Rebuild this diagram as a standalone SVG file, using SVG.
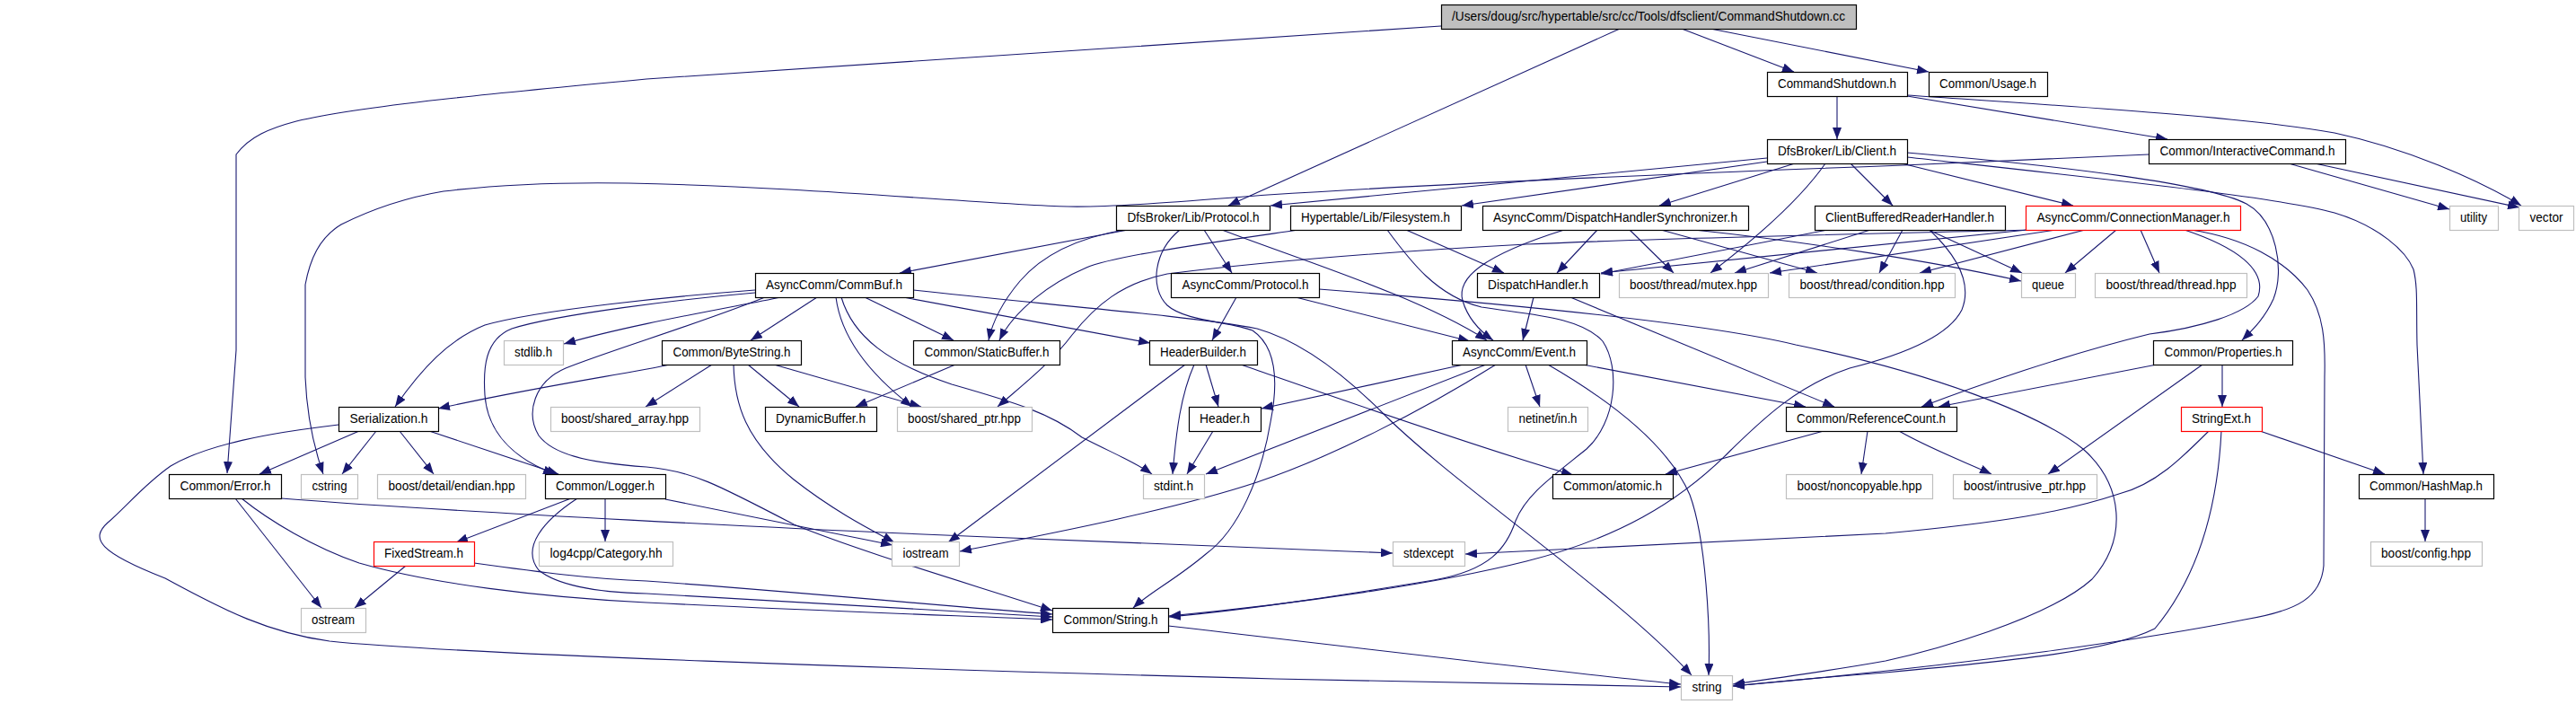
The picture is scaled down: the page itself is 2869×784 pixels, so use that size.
<svg xmlns="http://www.w3.org/2000/svg" width="2869" height="784" viewBox="0 0 2869 784">
<defs>
<marker id="arr" markerUnits="userSpaceOnUse" viewBox="0 0 13 10" refX="13" refY="5" markerWidth="13" markerHeight="10" orient="auto"><path d="M0,0L13,5L0,10z" fill="#191970"/></marker>
</defs>
<style>
.n rect{fill:#fff;stroke:#000;stroke-width:1.2}
.n.x rect{stroke:#bfbfbf}
.n.r rect{stroke:#f00}
.n.top rect{fill:#bfbfbf}
text{font-family:"Liberation Sans",Arial,Helvetica,sans-serif;font-size:14px;text-anchor:middle;fill:#000}
#edges path{fill:none;stroke:#191970;stroke-width:1.1;marker-end:url(#arr)}
</style>
<rect width="2869" height="784" fill="#fff"/>
<g id="edges">
<path d="M1605,29 L720,88 C560,103 400,118 330,135 C300,143 278,152 263,172 L263,390 L253,527"/>
<path d="M1804,32 L1368,229"/>
<path d="M1873,32 L1998,80"/>
<path d="M1905,32 L2148,80"/>
<path d="M2046,107 L2046,155"/>
<path d="M2124,107 L2414,155"/>
<path d="M2124,106 C2300,118 2500,130 2600,148 C2680,165 2760,200 2808,229"/>
<path d="M2549,182 L2728,233"/>
<path d="M2578,182 L2806,231"/>
<path d="M2393,172 L2120,184 C1900,192 1600,205 1412,217 C1320,224 1240,231 1190,230 C1100,228 900,208 700,204 C640,203 560,205 494,213 C440,222 400,240 380,250 C355,265 345,290 340,317 L340,420 C342,470 352,505 360,528"/>
<path d="M1968,176 L1415,229"/>
<path d="M1968,180 L1628,229"/>
<path d="M1999,182 L1848,229"/>
<path d="M2033,182 C2005,222 1960,262 1905,304"/>
<path d="M2061,182 L2108,229"/>
<path d="M2118,182 L2309,229"/>
<path d="M2124,170 C2300,185 2460,205 2502,227 C2535,245 2545,300 2532,333 C2522,355 2508,368 2497,379"/>
<path d="M2124,175 C2350,200 2540,220 2600,237 C2650,252 2680,280 2688,300 C2693,320 2691,340 2692,384 L2699,528"/>
<path d="M2119,256 L2093,304"/>
<path d="M2148,256 L2252,304"/>
<path d="M2083,256 L1932,304"/>
<path d="M2035,256 L1783,305"/>
<path d="M2149,256 C2185,290 2195,320 2185,345 C2170,375 2120,395 2060,410 C2000,430 1960,470 1928,501 C1870,560 1800,600 1700,625 C1600,650 1450,672 1302,686"/>
<path d="M2357,256 L2300,304"/>
<path d="M2384,256 L2405,304"/>
<path d="M2322,256 L2138,304"/>
<path d="M2290,256 L1971,304"/>
<path d="M2258,256 L1783,304"/>
<path d="M2262,256 C2100,260 1850,265 1700,272 C1550,280 1420,290 1300,305 C1250,315 1220,340 1194,373 C1170,405 1135,432 1111,453"/>
<path d="M2433,256 C2490,275 2525,300 2515,330 C2500,350 2450,365 2394,372 C2300,395 2200,430 2140,453"/>
<path d="M2440,256 C2500,265 2545,290 2570,323 C2588,350 2590,380 2589,420 L2588,630 C2585,665 2560,680 2500,690 C2400,710 2200,740 1930,764"/>
<path d="M1779,256 L1734,304"/>
<path d="M1815,256 L1864,304"/>
<path d="M1850,256 L2024,304"/>
<path d="M1887,256 C2000,268 2150,290 2251,313"/>
<path d="M1742,256 C1650,285 1622,310 1629,335 C1635,355 1650,370 1663,379"/>
<path d="M1566,256 L1675,304"/>
<path d="M1446,256 C1350,270 1240,285 1210,298 C1170,315 1130,345 1113,379"/>
<path d="M1545,256 C1570,290 1600,330 1650,342 C1700,350 1760,352 1785,380 C1805,410 1800,470 1767,500 C1730,530 1700,550 1688,580 C1678,610 1660,635 1597,646 C1500,662 1400,678 1302,687"/>
<path d="M1256,256 L1002,304"/>
<path d="M1252,256 C1200,265 1160,285 1136,313 C1115,338 1105,360 1101,379"/>
<path d="M1341,256 L1372,304"/>
<path d="M1361,256 C1450,290 1580,330 1656,379"/>
<path d="M1314,256 C1285,280 1280,320 1300,340 C1320,358 1370,358 1395,368 C1420,385 1425,420 1415,470 C1405,530 1380,590 1343,617 C1310,645 1280,660 1262,677"/>
<path d="M1443,331 L1637,380"/>
<path d="M1377,331 L1350,379"/>
<path d="M1469,322 C1700,340 1900,360 2000,384 C2150,415 2270,460 2320,500 C2365,540 2370,600 2330,645 C2280,690 2150,725 2100,736 C2050,745 1980,755 1930,762"/>
<path d="M910,331 L836,379"/>
<path d="M963,331 L1062,379"/>
<path d="M1006,331 L1281,382"/>
<path d="M931,331 C936,370 960,410 1016,453"/>
<path d="M937,331 C950,375 990,405 1060,428 C1130,448 1170,460 1205,487 C1240,505 1265,515 1283,528"/>
<path d="M1017,323 C1150,338 1330,352 1400,366 C1450,380 1500,420 1540,460 C1620,540 1800,660 1884,752"/>
<path d="M841,323 C750,330 600,345 540,362 C500,378 470,410 440,453"/>
<path d="M841,326 C760,333 620,350 570,366 C540,378 538,410 540,440 C543,480 570,510 618,528"/>
<path d="M870,331 C800,345 700,362 628,383"/>
<path d="M852,331 C780,360 680,390 630,410 C595,425 585,460 600,485 C615,505 650,515 720,520 C770,524 800,540 884,584 C960,615 1080,650 1172,680"/>
<path d="M746,406 C700,416 600,430 488,455"/>
<path d="M793,406 L719,453"/>
<path d="M833,406 L890,453"/>
<path d="M862,406 L1026,453"/>
<path d="M817,406 C818,450 830,490 884,534 C930,570 970,590 996,604"/>
<path d="M1064,406 L953,453"/>
<path d="M1343,406 L1357,453"/>
<path d="M1330,406 C1315,440 1310,480 1306,528"/>
<path d="M1320,406 L1056,604"/>
<path d="M1382,406 C1480,440 1650,500 1752,529"/>
<path d="M1351,480 L1322,528"/>
<path d="M1630,406 L1405,455"/>
<path d="M1655,406 L1343,528"/>
<path d="M1666,406 C1580,460 1480,510 1400,537 C1300,570 1150,598 1069,614"/>
<path d="M1699,406 L1715,453"/>
<path d="M1724,406 C1800,450 1860,500 1882,551 C1900,600 1905,700 1903,752"/>
<path d="M1763,406 L2011,453"/>
<path d="M1708,331 L1696,379"/>
<path d="M1749,331 L2043,453"/>
<path d="M400,480 L289,528"/>
<path d="M419,480 L381,528"/>
<path d="M445,480 L483,528"/>
<path d="M478,480 L622,528"/>
<path d="M377,473 C300,482 230,495 190,519 C160,540 140,565 120,582 C100,600 110,615 184,644 C250,680 300,705 367,714 C500,728 1000,745 1420,756 C1600,760 1750,762 1872,765"/>
<path d="M262,555 L358,677"/>
<path d="M269,555 C300,580 350,610 400,627 C480,650 600,665 720,671 C900,680 1050,685 1172,690"/>
<path d="M313,555 C500,570 900,590 1100,598 C1300,606 1450,612 1551,616"/>
<path d="M636,555 L508,604"/>
<path d="M674,555 L674,603"/>
<path d="M741,556 L994,607"/>
<path d="M643,555 C605,580 580,610 600,635 C625,655 680,660 720,661 C900,670 1050,680 1172,687"/>
<path d="M452,630 L395,677"/>
<path d="M528,627 C600,637 660,645 720,647 C900,660 1050,675 1172,684"/>
<path d="M1301,697 C1500,720 1750,750 1872,762"/>
<path d="M2402,406 L2159,453"/>
<path d="M2453,406 L2281,528"/>
<path d="M2475,406 L2475,453"/>
<path d="M2517,480 L2656,528"/>
<path d="M2460,480 C2430,510 2400,540 2360,550 C2300,570 2230,582 2100,594 C1900,605 1750,612 1632,617"/>
<path d="M2474,480 C2470,560 2450,640 2400,700 C2350,725 2250,735 2100,749 C2020,755 1970,760 1930,764"/>
<path d="M2031,480 L1855,528"/>
<path d="M2080,480 L2073,528"/>
<path d="M2115,480 C2150,500 2190,515 2218,528"/>
<path d="M2701,555 L2701,603"/>
</g>
<g id="n_cc" class="n top"><rect x="1605.5" y="5.5" width="462" height="27"/><text x="1836" y="23" textLength="438" lengthAdjust="spacingAndGlyphs">/Users/doug/src/hypertable/src/cc/Tools/dfsclient/CommandShutdown.cc</text></g>
<g id="n_cmdsh" class="n"><rect x="1968.5" y="80.5" width="156" height="27"/><text x="2046" y="98" textLength="132" lengthAdjust="spacingAndGlyphs">CommandShutdown.h</text></g>
<g id="n_usage" class="n"><rect x="2148.5" y="80.5" width="132" height="27"/><text x="2214" y="98" textLength="108" lengthAdjust="spacingAndGlyphs">Common/Usage.h</text></g>
<g id="n_client" class="n"><rect x="1968.5" y="155.5" width="156" height="27"/><text x="2046" y="173" textLength="132" lengthAdjust="spacingAndGlyphs">DfsBroker/Lib/Client.h</text></g>
<g id="n_interactive" class="n"><rect x="2393.5" y="155.5" width="219" height="27"/><text x="2503" y="173" textLength="195" lengthAdjust="spacingAndGlyphs">Common/InteractiveCommand.h</text></g>
<g id="n_dfsproto" class="n"><rect x="1243.5" y="229.5" width="171" height="27"/><text x="1329" y="247" textLength="147" lengthAdjust="spacingAndGlyphs">DfsBroker/Lib/Protocol.h</text></g>
<g id="n_fs" class="n"><rect x="1437.5" y="229.5" width="190" height="27"/><text x="1532" y="247" textLength="166" lengthAdjust="spacingAndGlyphs">Hypertable/Lib/Filesystem.h</text></g>
<g id="n_dhs" class="n"><rect x="1651.5" y="229.5" width="296" height="27"/><text x="1799" y="247" textLength="272" lengthAdjust="spacingAndGlyphs">AsyncComm/DispatchHandlerSynchronizer.h</text></g>
<g id="n_cbrh" class="n"><rect x="2021.5" y="229.5" width="212" height="27"/><text x="2127" y="247" textLength="188" lengthAdjust="spacingAndGlyphs">ClientBufferedReaderHandler.h</text></g>
<g id="n_connmgr" class="n r"><rect x="2256.5" y="229.5" width="239" height="27"/><text x="2376" y="247" textLength="215" lengthAdjust="spacingAndGlyphs">AsyncComm/ConnectionManager.h</text></g>
<g id="n_utility" class="n x"><rect x="2728.5" y="229.5" width="54" height="27"/><text x="2755" y="247" textLength="30" lengthAdjust="spacingAndGlyphs">utility</text></g>
<g id="n_vector" class="n x"><rect x="2805.5" y="229.5" width="61" height="27"/><text x="2836" y="247" textLength="37" lengthAdjust="spacingAndGlyphs">vector</text></g>
<g id="n_commbuf" class="n"><rect x="841.5" y="304.5" width="176" height="27"/><text x="929" y="322" textLength="152" lengthAdjust="spacingAndGlyphs">AsyncComm/CommBuf.h</text></g>
<g id="n_acproto" class="n"><rect x="1304.5" y="304.5" width="165" height="27"/><text x="1387" y="322" textLength="141" lengthAdjust="spacingAndGlyphs">AsyncComm/Protocol.h</text></g>
<g id="n_dh" class="n"><rect x="1645.5" y="304.5" width="136" height="27"/><text x="1713" y="322" textLength="112" lengthAdjust="spacingAndGlyphs">DispatchHandler.h</text></g>
<g id="n_mutex" class="n x"><rect x="1803.5" y="304.5" width="166" height="27"/><text x="1886" y="322" textLength="142" lengthAdjust="spacingAndGlyphs">boost/thread/mutex.hpp</text></g>
<g id="n_cond" class="n x"><rect x="1992.5" y="304.5" width="185" height="27"/><text x="2085" y="322" textLength="161" lengthAdjust="spacingAndGlyphs">boost/thread/condition.hpp</text></g>
<g id="n_queue" class="n x"><rect x="2251.5" y="304.5" width="60" height="27"/><text x="2281" y="322" textLength="36" lengthAdjust="spacingAndGlyphs">queue</text></g>
<g id="n_thread" class="n x"><rect x="2333.5" y="304.5" width="169" height="27"/><text x="2418" y="322" textLength="145" lengthAdjust="spacingAndGlyphs">boost/thread/thread.hpp</text></g>
<g id="n_stdlib" class="n x"><rect x="561.5" y="379.5" width="66" height="27"/><text x="594" y="397" textLength="42" lengthAdjust="spacingAndGlyphs">stdlib.h</text></g>
<g id="n_bytestr" class="n"><rect x="737.5" y="379.5" width="155" height="27"/><text x="815" y="397" textLength="131" lengthAdjust="spacingAndGlyphs">Common/ByteString.h</text></g>
<g id="n_staticbuf" class="n"><rect x="1017.5" y="379.5" width="163" height="27"/><text x="1099" y="397" textLength="139" lengthAdjust="spacingAndGlyphs">Common/StaticBuffer.h</text></g>
<g id="n_hb" class="n"><rect x="1280.5" y="379.5" width="120" height="27"/><text x="1340" y="397" textLength="96" lengthAdjust="spacingAndGlyphs">HeaderBuilder.h</text></g>
<g id="n_event" class="n"><rect x="1617.5" y="379.5" width="150" height="27"/><text x="1692" y="397" textLength="126" lengthAdjust="spacingAndGlyphs">AsyncComm/Event.h</text></g>
<g id="n_props" class="n"><rect x="2398.5" y="379.5" width="155" height="27"/><text x="2476" y="397" textLength="131" lengthAdjust="spacingAndGlyphs">Common/Properties.h</text></g>
<g id="n_ser" class="n"><rect x="377.5" y="453.5" width="111" height="27"/><text x="433" y="471" textLength="87" lengthAdjust="spacingAndGlyphs">Serialization.h</text></g>
<g id="n_sharr" class="n x"><rect x="613.5" y="453.5" width="166" height="27"/><text x="696" y="471" textLength="142" lengthAdjust="spacingAndGlyphs">boost/shared_array.hpp</text></g>
<g id="n_dynbuf" class="n"><rect x="852.5" y="453.5" width="124" height="27"/><text x="914" y="471" textLength="100" lengthAdjust="spacingAndGlyphs">DynamicBuffer.h</text></g>
<g id="n_shptr" class="n x"><rect x="999.5" y="453.5" width="150" height="27"/><text x="1074" y="471" textLength="126" lengthAdjust="spacingAndGlyphs">boost/shared_ptr.hpp</text></g>
<g id="n_header" class="n"><rect x="1324.5" y="453.5" width="80" height="27"/><text x="1364" y="471" textLength="56" lengthAdjust="spacingAndGlyphs">Header.h</text></g>
<g id="n_netinet" class="n x"><rect x="1679.5" y="453.5" width="89" height="27"/><text x="1724" y="471" textLength="65" lengthAdjust="spacingAndGlyphs">netinet/in.h</text></g>
<g id="n_refcnt" class="n"><rect x="1989.5" y="453.5" width="190" height="27"/><text x="2084" y="471" textLength="166" lengthAdjust="spacingAndGlyphs">Common/ReferenceCount.h</text></g>
<g id="n_strext" class="n r"><rect x="2429.5" y="453.5" width="90" height="27"/><text x="2474" y="471" textLength="66" lengthAdjust="spacingAndGlyphs">StringExt.h</text></g>
<g id="n_error" class="n"><rect x="188.5" y="528.5" width="125" height="27"/><text x="251" y="546" textLength="101" lengthAdjust="spacingAndGlyphs">Common/Error.h</text></g>
<g id="n_cstring" class="n x"><rect x="335.5" y="528.5" width="63" height="27"/><text x="367" y="546" textLength="39" lengthAdjust="spacingAndGlyphs">cstring</text></g>
<g id="n_endian" class="n x"><rect x="420.5" y="528.5" width="165" height="27"/><text x="503" y="546" textLength="141" lengthAdjust="spacingAndGlyphs">boost/detail/endian.hpp</text></g>
<g id="n_logger" class="n"><rect x="607.5" y="528.5" width="134" height="27"/><text x="674" y="546" textLength="110" lengthAdjust="spacingAndGlyphs">Common/Logger.h</text></g>
<g id="n_stdint" class="n x"><rect x="1273.5" y="528.5" width="68" height="27"/><text x="1307" y="546" textLength="44" lengthAdjust="spacingAndGlyphs">stdint.h</text></g>
<g id="n_atomic" class="n"><rect x="1729.5" y="528.5" width="134" height="27"/><text x="1796" y="546" textLength="110" lengthAdjust="spacingAndGlyphs">Common/atomic.h</text></g>
<g id="n_noncopy" class="n x"><rect x="1989.5" y="528.5" width="163" height="27"/><text x="2071" y="546" textLength="139" lengthAdjust="spacingAndGlyphs">boost/noncopyable.hpp</text></g>
<g id="n_intr" class="n x"><rect x="2175.5" y="528.5" width="160" height="27"/><text x="2255" y="546" textLength="136" lengthAdjust="spacingAndGlyphs">boost/intrusive_ptr.hpp</text></g>
<g id="n_hashmap" class="n"><rect x="2627.5" y="528.5" width="150" height="27"/><text x="2702" y="546" textLength="126" lengthAdjust="spacingAndGlyphs">Common/HashMap.h</text></g>
<g id="n_fixed" class="n r"><rect x="416.5" y="603.5" width="112" height="27"/><text x="472" y="621" textLength="88" lengthAdjust="spacingAndGlyphs">FixedStream.h</text></g>
<g id="n_log4" class="n x"><rect x="600.5" y="603.5" width="149" height="27"/><text x="675" y="621" textLength="125" lengthAdjust="spacingAndGlyphs">log4cpp/Category.hh</text></g>
<g id="n_iostream" class="n x"><rect x="993.5" y="603.5" width="75" height="27"/><text x="1031" y="621" textLength="51" lengthAdjust="spacingAndGlyphs">iostream</text></g>
<g id="n_stdexcept" class="n x"><rect x="1551.5" y="603.5" width="80" height="27"/><text x="1591" y="621" textLength="56" lengthAdjust="spacingAndGlyphs">stdexcept</text></g>
<g id="n_config" class="n x"><rect x="2640.5" y="603.5" width="124" height="27"/><text x="2702" y="621" textLength="100" lengthAdjust="spacingAndGlyphs">boost/config.hpp</text></g>
<g id="n_ostream" class="n x"><rect x="335.5" y="677.5" width="72" height="27"/><text x="371" y="695" textLength="48" lengthAdjust="spacingAndGlyphs">ostream</text></g>
<g id="n_string_h" class="n"><rect x="1172.5" y="677.5" width="129" height="27"/><text x="1237" y="695" textLength="105" lengthAdjust="spacingAndGlyphs">Common/String.h</text></g>
<g id="n_string" class="n x"><rect x="1872.5" y="752.5" width="57" height="27"/><text x="1901" y="770" textLength="33" lengthAdjust="spacingAndGlyphs">string</text></g>
</svg>
